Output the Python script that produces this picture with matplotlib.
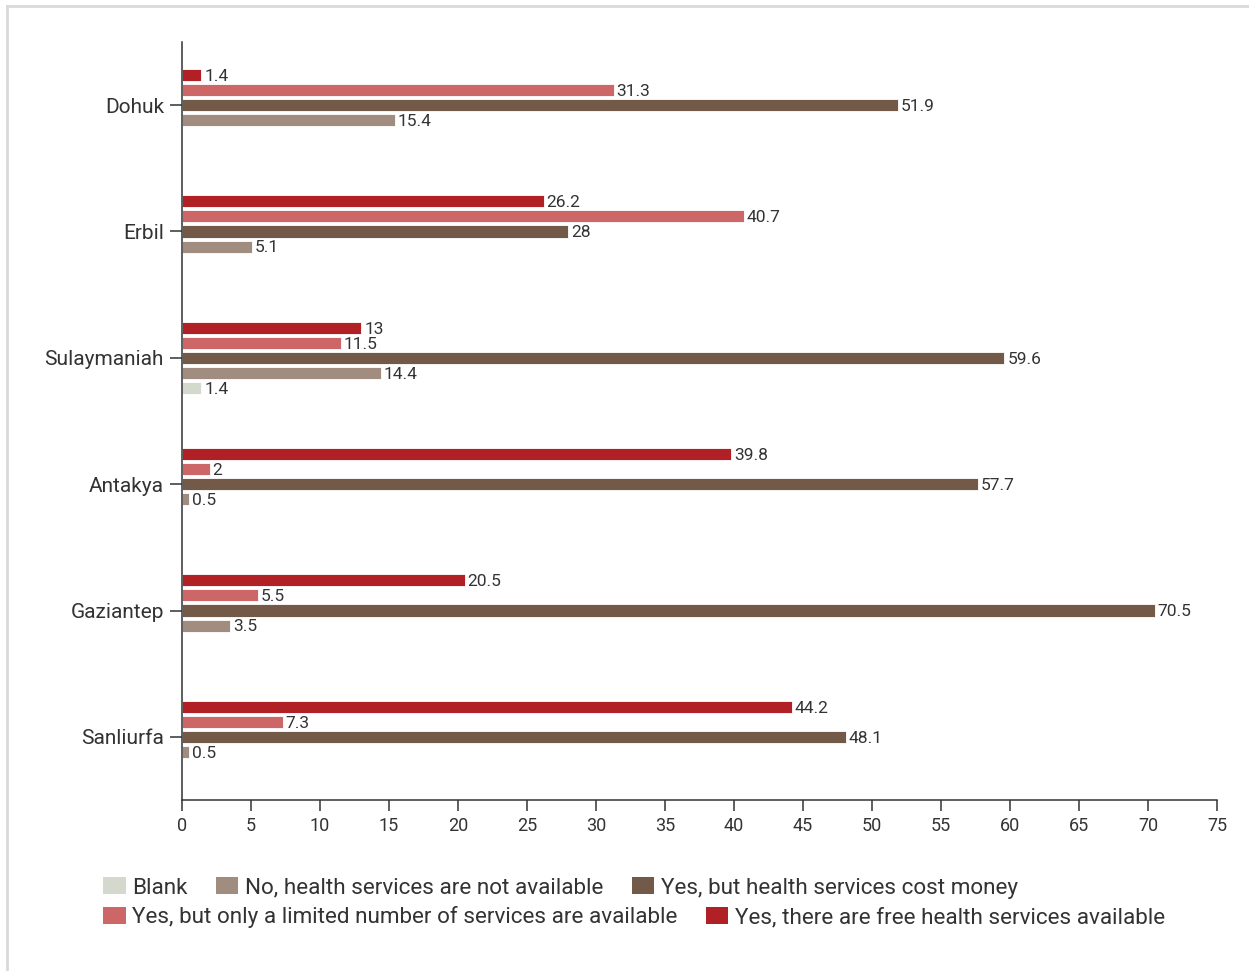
import matplotlib
matplotlib.use("Agg")
import matplotlib.pyplot as plt
from matplotlib.patches import Patch
from matplotlib.lines import Line2D
import numpy as np

plt.rcParams['font.family'] = ['Roboto', 'DejaVu Sans']

categories = ["Dohuk", "Erbil", "Sulaymaniah", "Antakya", "Gaziantep", "Sanliurfa"]
series_names = [
    "Blank",
    "No, health services are not available",
    "Yes, but health services cost money",
    "Yes, but only a limited number of services are available",
    "Yes, there are free health services available",
]
blank = [0, 0, 1.4, 0, 0, 0]
no_services = [15.4, 5.1, 14.4, 0.5, 3.5, 0.5]
cost_money = [51.9, 28, 59.6, 57.7, 70.5, 48.1]
limited = [31.3, 40.7, 11.5, 2, 5.5, 7.3]
free = [1.4, 26.2, 13, 39.8, 20.5, 44.2]
x_ticks = list(range(0, 80, 5))

colors = {
    "Blank": "#D4D9CE",
    "No, health services are not available": "#A08D7F",
    "Yes, but health services cost money": "#735A48",
    "Yes, but only a limited number of services are available": "#CD6666",
    "Yes, there are free health services available": "#B02024",
}
TXT = "#333333"

fig = plt.figure(figsize=(12.49, 9.71), dpi=100)
W, H = 1249, 971
ax = fig.add_axes([182 / W, 1 - 800 / H, (1217 - 182) / W, (800 - 42) / H])

y = np.arange(len(categories))
step = 0.119
bh = 0.095
# order from top to bottom within group: free, limited, cost, no, blank
drawing = [
    (free, series_names[4], -2),
    (limited, series_names[3], -1),
    (cost_money, series_names[2], 0),
    (no_services, series_names[1], 1),
    (blank, series_names[0], 2),
]
for vals, name, k in drawing:
    pos = y + k * step
    for p, v in zip(pos, vals):
        if v == 0:
            continue
        ax.barh(p, v, height=bh, color=colors[name], edgecolor="white", linewidth=0.6)
        ax.text(v + 0.2, p + 0.01, f"{v:g}", va="center", ha="left", fontsize=12.5, color=TXT)

ax.set_ylim(5.5, -0.5)
ax.set_xlim(0, 75)
ax.set_yticks(y)
ax.set_yticklabels(categories, fontsize=15, color=TXT)
ax.set_xticks(x_ticks)
ax.set_xticklabels([str(t) for t in x_ticks], fontsize=13, color=TXT)
ax.tick_params(axis="y", length=8.5, width=1.1, color="#333333", pad=4.5)
ax.tick_params(axis="x", length=8, width=1.1, color="#333333", pad=4)
for s in ["top", "right"]:
    ax.spines[s].set_visible(False)
for s in ["left", "bottom"]:
    ax.spines[s].set_color("#333333")
    ax.spines[s].set_linewidth(1.1)

# legends (two rows)
def handles(names):
    return [Patch(facecolor=colors[n], edgecolor="none") for n in names]

row1 = series_names[:3]
row2 = series_names[3:]
kw = dict(frameon=False, fontsize=16.2, handlelength=1.0, handleheight=0.78,
          handletextpad=0.3, columnspacing=1.25, borderpad=0, borderaxespad=0,
          labelcolor=TXT, loc="center left")
leg1 = fig.legend(handles(row1), row1, ncol=3, bbox_to_anchor=(103 / W, 1 - 888 / H), **kw)
leg2 = fig.legend(handles(row2), row2, ncol=2, bbox_to_anchor=(103 / W, 1 - 917 / H), **kw)

# light frame
fig.add_artist(Line2D([7 / W, 1], [1 - 6 / H, 1 - 6 / H], color="#D9D9D9", lw=2, transform=fig.transFigure))
fig.add_artist(Line2D([7 / W, 7 / W], [0, 1 - 6 / H], color="#D9D9D9", lw=2, transform=fig.transFigure))

fig.savefig("out.png", dpi=100, facecolor="white")
